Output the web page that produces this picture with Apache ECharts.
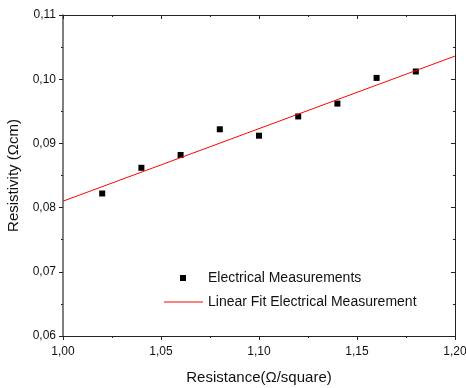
<!DOCTYPE html>
<html>
<head>
<meta charset="utf-8">
<script src="https://cdn.jsdelivr.net/npm/echarts@6/dist/echarts.min.js"></script>
<style>
  html, body { margin: 0; padding: 0; background: #fff; }
  #chart { width: 466px; height: 388px; }
</style>
</head>
<body>
<div id="chart"></div>
<script>
const resistance = [1.02, 1.04, 1.06, 1.08, 1.10, 1.12, 1.14, 1.16, 1.18];
const resistivity = [0.0822, 0.0862, 0.0882, 0.0922, 0.0912, 0.0942, 0.0962, 0.1002, 0.1012];
// ends of the linear fit
const fitX = [1.00, 1.20];
const fitY = [0.0810, 0.1036];

const font = "'Liberation Sans', Arial, sans-serif";
const comma = (d) => (v) => v.toFixed(d).replace('.', ',');

const chart = echarts.init(document.getElementById('chart'));

const baseAxis = (extra) => Object.assign({
  type: 'value',
  axisLine: { show: true, lineStyle: { color: '#222', width: 1 } },
  splitLine: { show: false },
  minorTick: { show: true, splitNumber: 2, length: 2, lineStyle: { color: '#222' } },
  axisTick: { show: true, inside: false, length: 4, lineStyle: { color: '#222' } }
}, extra);

const option = {
  animation: false,
  textStyle: { fontFamily: font },
  grid: { left: 63, right: 11, top: 15, bottom: 52, outerBoundsMode: 'none' },
  xAxis: [
    baseAxis({
      position: 'bottom', min: 1.0, max: 1.2, interval: 0.05,
      axisLabel: { color: '#111', fontSize: 12, margin: 10, fontFamily: font, formatter: comma(2) },
      name: 'Resistance(Ω/square)', nameLocation: 'middle', nameGap: 34,
      nameTextStyle: { color: '#111', fontSize: 15, fontFamily: font }
    }),
    baseAxis({
      position: 'top', min: 1.0, max: 1.2, interval: 0.05,
      axisLabel: { show: false },
      axisTick: { show: true, inside: true, length: 4, lineStyle: { color: '#222' } }
    })
  ],
  yAxis: [
    baseAxis({
      position: 'left', min: 0.06, max: 0.11, interval: 0.01,
      axisLine: { show: true, lineStyle: { color: '#555', width: 1.5 } },
      axisLabel: { color: '#111', fontSize: 12, margin: 7, fontFamily: font, formatter: comma(2) },
      name: 'Resistivity (Ωcm)', nameLocation: 'middle', nameGap: 39,
      nameTextStyle: { color: '#111', fontSize: 15, fontFamily: font }
    }),
    baseAxis({
      position: 'right', min: 0.06, max: 0.11, interval: 0.01,
      axisLabel: { show: false },
      axisTick: { show: true, inside: true, length: 4, lineStyle: { color: '#222' } }
    })
  ],
  legend: [
    {
      data: ['Electrical Measurements'],
      left: 180, top: 270, padding: 0,
      icon: 'rect', itemWidth: 6, itemHeight: 6,
      textStyle: { color: '#111', fontSize: 14, lineHeight: 16, padding: [0, 0, 0, 17], fontFamily: font }
    },
    {
      data: ['Linear Fit Electrical Measurement'],
      left: 164, top: 294, padding: 0,
      icon: 'rect', itemWidth: 39, itemHeight: 1,
      textStyle: { color: '#111', fontSize: 14, lineHeight: 16, fontFamily: font }
    }
  ],
  series: [
    {
      name: 'Electrical Measurements',
      type: 'scatter',
      symbol: 'rect',
      symbolSize: 6,
      itemStyle: { color: '#000', opacity: 1 },
      data: resistance.map((x, i) => [x, resistivity[i]])
    },
    {
      name: 'Linear Fit Electrical Measurement',
      type: 'line',
      symbol: 'none',
      lineStyle: { color: '#ff0000', width: 1 },
      itemStyle: { color: '#ff0000' },
      data: fitX.map((x, i) => [x, fitY[i]])
    }
  ]
};

chart.setOption(option);
window.onresize = () => chart.resize();
</script>
</body>
</html>
